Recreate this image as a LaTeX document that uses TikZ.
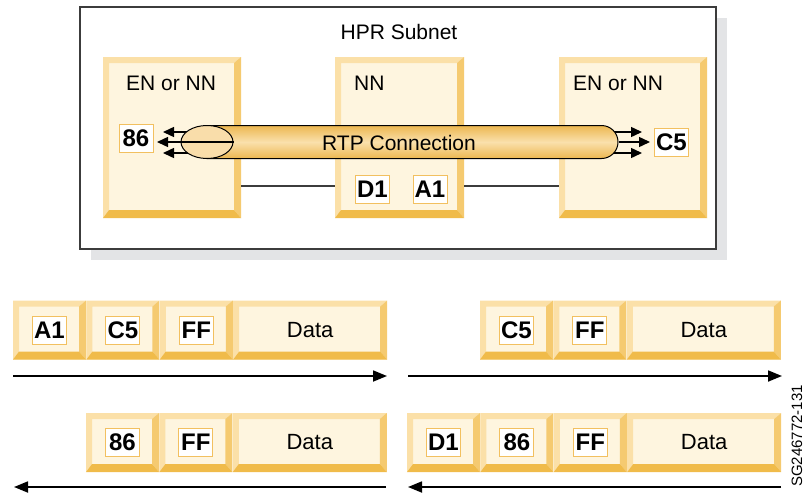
\documentclass[tikz,border=0pt]{standalone}
\usepackage{fontspec}
\setmainfont{Liberation Sans}
\usepackage{tikz}
\usetikzlibrary{arrows.meta, positioning, shapes.geometric, shapes.misc, shadows}
\definecolor{bevelin}{RGB}{254,245,223}
\definecolor{bevelhi}{RGB}{251,224,168}
\definecolor{bevelmid}{RGB}{245,202,112}
\definecolor{bevello}{RGB}{240,187,74}
\definecolor{tagline}{RGB}{242,192,96}
\definecolor{tubedark}{RGB}{236,183,80}
\definecolor{tubelight}{RGB}{250,224,172}
\definecolor{capfill}{RGB}{249,221,170}
\definecolor{framegray}{RGB}{60,60,60}
\definecolor{shadowgray}{RGB}{227,228,230}

\begin{document}
\begin{tikzpicture}[
  x=1pt, y=-1pt,
  node distance=0pt,
  bevel/.style={fill=bevelin, inner sep=0pt, minimum height=59pt,
    path picture={
      \coordinate (pp1) at (path picture bounding box.south west);
      \coordinate (pp2) at (path picture bounding box.north east);
      \coordinate (pp3) at (path picture bounding box.north west);
      \coordinate (pp4) at (path picture bounding box.south east);
      \fill[bevelhi] (pp1) -- (pp3) -- (pp2) -- ([shift={(-7pt,-6pt)}]pp2)
        -- ([shift={(6pt,-6pt)}]pp3) -- ([shift={(6pt,8pt)}]pp1) -- cycle;
      \fill[bevelmid] (pp2) -- (pp4) -- ([shift={(-7pt,8pt)}]pp4)
        -- ([shift={(-7pt,-6pt)}]pp2) -- cycle;
      \fill[bevello] (pp1) -- (pp4) -- ([shift={(-7pt,8pt)}]pp4)
        -- ([shift={(6pt,8pt)}]pp1) -- cycle;
    }},
  cell/.style={bevel, minimum width=73pt},
  datacell/.style={bevel, minimum width=154pt, font=\fontsize{22}{26}\selectfont},
  nodebox/.style={bevel, minimum height=161pt},
  tag/.style={draw=tagline, line width=1pt, fill=white, inner sep=0pt,
    minimum width=34pt, minimum height=28pt, font=\fontsize{24}{28}\selectfont\bfseries},
  txt/.style={font=\fontsize{21}{25}\selectfont},
  title/.style={txt, anchor=west, inner sep=0pt},
  link/.style={framegray, line width=1.5pt},
  headarr/.style={-{Triangle[length=11pt, width=10pt]}, line width=1.4pt},
  flow/.style={-{Triangle[length=14pt, width=11pt]}, line width=1.8pt},
]
  \useasboundingbox (0,0) rectangle (805,493);

  % HPR subnet
  \node[draw=framegray, line width=1.5pt, fill=white, minimum width=636pt, minimum height=242pt,
    drop shadow={shadow xshift=11pt, shadow yshift=-11pt, fill=shadowgray, opacity=1}] (subnet) at (398,128) {};
  \node[txt] (hpr) at (399,32) {HPR Subnet};

  \node[nodebox, minimum width=138pt] (enl) at (172,137.5) {};
  \node[nodebox, minimum width=129pt] (nn)  at (399.5,137.5) {};
  \node[nodebox, minimum width=148pt] (enr) at (633,137.5) {};
  \node[title] (enltitle) at (126,83) {EN or NN};
  \node[title] (nntitle)  at (354,83) {NN};
  \node[title] (enrtitle) at (573,83) {EN or NN};

  \draw[link] ([yshift=-48.5pt]enl.east) -- ([yshift=-48.5pt]nn.west);
  \draw[link] ([yshift=-48.5pt]nn.east) -- ([yshift=-48.5pt]enr.west);

  \node[tag] (t86) at (136,138) {86};
  \node[tag] (tc5) at (671.5,142) {C5};
  \node[tag] (td1) at (372.5,189.5) {D1};
  \node[tag] (ta1) at (430,189.5) {A1};

  % RTP connection
  \coordinate (l1) at (163,132);
  \coordinate (l2) at (157,142);
  \coordinate (l3) at (163,153);
  \coordinate (r1) at (642,132);
  \coordinate (r2) at (650,142);
  \coordinate (r3) at (642,153);
  \coordinate (l1s) at (207,132);
  \coordinate (l3s) at (207,153);
  \coordinate (r1s) at (605,132);
  \coordinate (r3s) at (605,153);
  \draw[headarr] (l1s) -- (l1);
  \draw[headarr] (l3s) -- (l3);
  \draw[headarr] (r1s) -- (r1);
  \draw[headarr] (r3s) -- (r3);
  \node[rounded rectangle, rounded rectangle left arc=none, draw, line width=1pt,
    top color=tubedark, bottom color=tubedark, middle color=tubelight,
    minimum width=411pt, minimum height=33pt, inner sep=0pt] (rtp) at (412.5,142) {};
  \node[ellipse, draw, line width=1pt, fill=capfill, minimum width=52pt,
    minimum height=33pt, inner sep=0pt] (rtpend) at (207,142) {};
  \draw[headarr] (rtpend.east) -- (l2);
  \draw[headarr] (rtp.east) -- (r2);
  \node[txt] (rtplbl) at (399,143) {RTP Connection};

  % frames
  \node[cell] (pa1) at (49.5,330) {};
  \node[tag] (qa1) at (pa1) {A1};
  \node[cell, right=of pa1] (pc5) {};
  \node[tag] (qc5) at (pc5) {C5};
  \node[cell, right=of pc5] (pff) {};
  \node[tag] (qff) at (pff) {FF};
  \node[datacell, right=of pff] (pdata) {Data};

  \node[cell] (pb1) at (516.5,330) {};
  \node[tag] (qb1) at (pb1) {C5};
  \node[cell, right=of pb1] (pb2) {};
  \node[tag] (qb2) at (pb2) {FF};
  \node[datacell, right=of pb2] (pbdata) {Data};

  \node[cell] (pc1) at (122.5,442.5) {};
  \node[tag] (qc1) at (pc1) {86};
  \node[cell, right=of pc1] (pc2) {};
  \node[tag] (qc2) at (pc2) {FF};
  \node[datacell, right=of pc2] (pcdata) {Data};

  \node[cell] (pd1) at (443.5,442.5) {};
  \node[tag] (qd1) at (pd1) {D1};
  \node[cell, right=of pd1] (pd2) {};
  \node[tag] (qd2) at (pd2) {86};
  \node[cell, right=of pd2] (pd3) {};
  \node[tag] (qd3) at (pd3) {FF};
  \node[datacell, right=of pd3] (pddata) {Data};

  \coordinate (f1s) at (13,376);
  \coordinate (f1e) at (387,376);
  \coordinate (f2s) at (408,376);
  \coordinate (f2e) at (782,376);
  \coordinate (f3s) at (386,487);
  \coordinate (f3e) at (14,487);
  \coordinate (f4s) at (781,487);
  \coordinate (f4e) at (408,487);
  \draw[flow] (f1s) -- (f1e);
  \draw[flow] (f2s) -- (f2e);
  \draw[flow] (f3s) -- (f3e);
  \draw[flow] (f4s) -- (f4e);

  \node[rotate=90, font=\fontsize{15}{17}\selectfont, inner sep=0pt] (figid) at (797,436) {SG246772-131};
\end{tikzpicture}
\end{document}
